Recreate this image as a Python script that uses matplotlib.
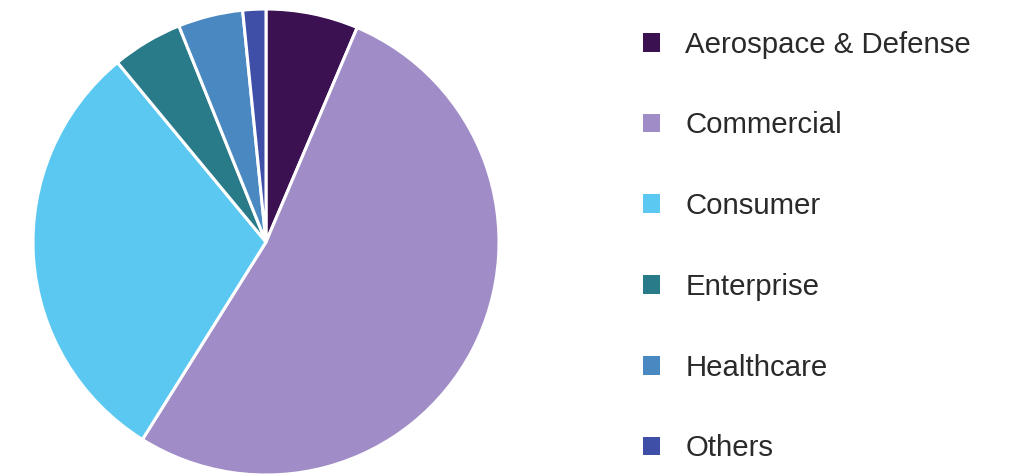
import matplotlib
matplotlib.use("Agg")
import matplotlib.pyplot as plt
from matplotlib.patches import Patch

# segment shares (%), clockwise from 12 o'clock
labels = ['Aerospace & Defense', 'Commercial', 'Consumer', 'Enterprise', 'Healthcare', 'Others']
shares = [6.4, 52.5, 30.1, 4.9, 4.5, 1.6]
colors = ['#3b1152', '#a08cc6', '#5bc8f2', '#2a7b8a', '#4a88c2', '#3f4fa8']

plt.rcParams['font.family'] = ['Liberation Sans', 'DejaVu Sans']

fig = plt.figure(figsize=(10.11, 4.74), dpi=100)
ax = fig.add_axes([33 / 1011, -1 / 474, 466 / 1011, 466 / 474])
ax.pie(shares, colors=colors, startangle=90, counterclock=False, radius=1,
       wedgeprops=dict(edgecolor='white', linewidth=2.2))
ax.set_xlim(-1, 1)
ax.set_ylim(-1, 1)
ax.set_aspect('equal')
ax.axis('off')

handles = [Patch(facecolor=c, edgecolor='none') for c in colors]
fig.legend(handles, labels, loc='upper left', bbox_to_anchor=(631 / 1011, 1 - 19 / 474),
           borderaxespad=0, frameon=False, fontsize=21.2, handlelength=0.6, handleheight=0.6,
           handletextpad=0.85, labelspacing=1.79, labelcolor='#2a2a2a')

fig.savefig('out.png', dpi=100)
